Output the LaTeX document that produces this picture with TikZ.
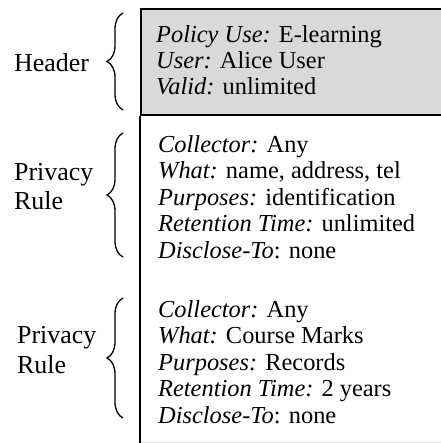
\documentclass[tikz,border=0pt]{standalone}
\usepackage{fontspec}
\setmainfont{Liberation Serif}
\usetikzlibrary{decorations.pathreplacing}
\definecolor{headgray}{HTML}{D9D9D9}

\begin{document}
\begin{tikzpicture}[x=1bp, y=-1bp,
  lbl/.style={font=\fontsize{26}{30}\selectfont, align=left, inner sep=0pt, anchor=base west},
  entry/.style={font=\fontsize{24.5}{26.5}\selectfont, align=left, inner sep=0pt, anchor=base west},
  brc/.style={decorate, decoration={brace, amplitude=16bp}, line width=1.3bp}]
\useasboundingbox (0,0) rectangle (441,443);
\clip (0,0) rectangle (441,443);
% Header box, open to the right
\node[draw, fill=headgray, line width=2bp, anchor=north west, minimum width=320bp, minimum height=106bp, inner sep=0pt] (hbox) at (140,8) {};
% Rule column line
\coordinate (colend) at (140,445);
\draw[line width=1.5bp] (hbox.south west) -- (colend);
\draw[black!12, line width=1bp] (141,442.5) -- (441,442.5);
% Header entries (base = last line)
\node[entry] (hdrtxt) at (156,95) {\textit{Policy Use:} E-learning\\ \textit{User:} Alice User\\ \textit{Valid:} unlimited};
% First privacy rule
\node[entry] (rule1txt) at (158,258) {\textit{Collector:} Any\\ \textit{What:} name, address, tel\\ \textit{Purposes:} identification\\ \textit{Retention Time:} unlimited\\ \textit{Disclose-To}: none};
% Second privacy rule
\node[entry] (rule2txt) at (158,423) {\textit{Collector:} Any\\ \textit{What:} Course Marks\\ \textit{Purposes:} Records\\ \textit{Retention Time:} 2 years\\ \textit{Disclose-To}: none};
% Braces
\coordinate (hb1) at (123,110); \coordinate (hb2) at (123,13);
\coordinate (rb1) at (123,257); \coordinate (rb2) at (123,133);
\coordinate (sb1) at (123,418); \coordinate (sb2) at (123,298);
\draw[brc] (hb1) -- (hb2);
\draw[brc] (rb1) -- (rb2);
\draw[brc] (sb1) -- (sb2);
% Labels
\node[lbl] (hdrlbl) at (14,72) {Header};
\node[lbl] (rule1lbl) at (14,210) {Privacy\\Rule};
\node[lbl] (rule2lbl) at (17,373) {Privacy\\Rule};
\end{tikzpicture}
\end{document}
